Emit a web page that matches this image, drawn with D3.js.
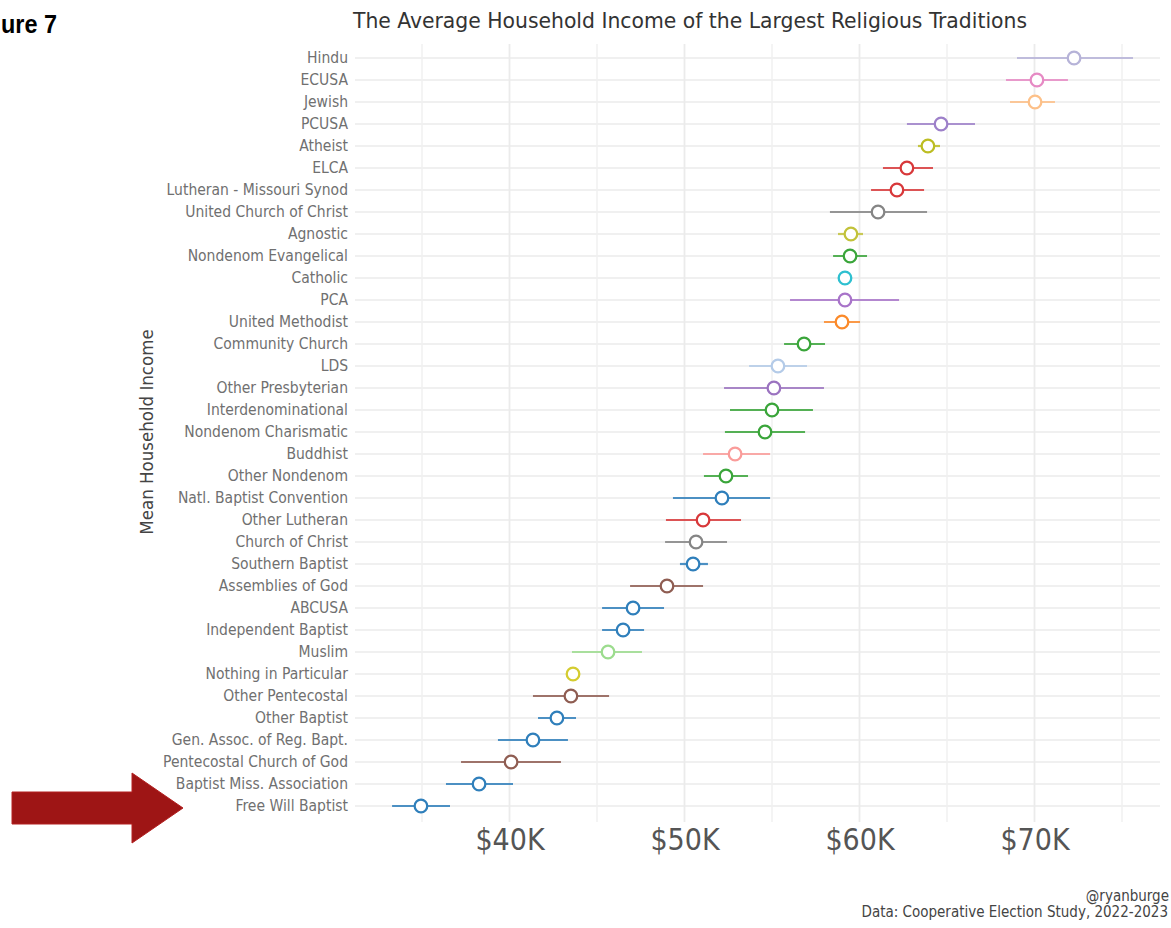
<!DOCTYPE html>
<html><head><meta charset="utf-8">
<script src="https://cdn.jsdelivr.net/npm/d3@7"></script>
<style>
html,body{margin:0;padding:0;background:#fff;}
svg{display:block;}
.cf{font-family:"Liberation Sans Narrow","DejaVu Sans Condensed","Roboto Condensed","Open Sans",sans-serif;font-stretch:condensed;}
</style></head>
<body>
<svg id="c" width="1171" height="928"></svg>
<script>
const categories = ["Hindu","ECUSA","Jewish","PCUSA","Atheist","ELCA","Lutheran - Missouri Synod","United Church of Christ","Agnostic","Nondenom Evangelical","Catholic","PCA","United Methodist","Community Church","LDS","Other Presbyterian","Interdenominational","Nondenom Charismatic","Buddhist","Other Nondenom","Natl. Baptist Convention","Other Lutheran","Church of Christ","Southern Baptist","Assemblies of God","ABCUSA","Independent Baptist","Muslim","Nothing in Particular","Other Pentecostal","Other Baptist","Gen. Assoc. of Reg. Bapt.","Pentecostal Church of God","Baptist Miss. Association","Free Will Baptist"];
const meanIncome = [72260,70140,70030,64660,63910,62710,62140,61060,59510,59460,59170,59170,59000,56830,55340,55110,55000,54600,52890,52370,52140,51060,50660,50490,49000,47060,46490,45630,43630,43510,42710,41340,40090,38260,34940];
const lowerCI = [69000,68370,68600,62710,63340,61340,60660,58310,58770,58490,58940,56030,57970,55690,53690,52260,52600,52310,51060,51110,49340,48940,48890,49740,46890,45290,45290,43570,43400,41340,41630,39340,37230,36370,33290];
const upperCI = [75630,71910,71170,66600,64600,64200,63690,63860,60200,60430,59400,62260,60030,58030,57000,57970,57340,56890,54890,53630,54890,53230,52430,51340,51060,48830,47690,47570,43860,45690,43800,43340,42940,40200,36600];
const colors = ["#b6b3d8","#e68ac4","#fdc088","#9d80c9","#bcbd22","#d8383a","#d8383a","#858585","#c2c23a","#3aa53a","#2ec0d0","#a874c9","#fb8a2a","#3aa53a","#b4cbe8","#9b73c0","#3aa53a","#3aa53a","#fa9c9a","#3aa53a","#2f7fbb","#d8383a","#858585","#2f7fbb","#8f5d52","#2f7fbb","#2f7fbb","#9cdc8e","#d4cc30","#8f5d52","#2f7fbb","#2f7fbb","#8f5d52","#2f7fbb","#2f7fbb"];
const xTicks = [40000,50000,60000,70000];
const xMinorTicks = [35000,45000,55000,65000,75000];

const svg = d3.select("#c");
const x = d3.scaleLinear().domain([35000,75000]).range([422,1122]);
const y = d3.scalePoint().domain(categories).range([58,806]);
const gridColor = "#ebebeb";

// grid
const g = svg.append("g");
g.selectAll("line.h").data(categories).join("line")
  .attr("x1",355).attr("x2",1160)
  .attr("y1",d=>y(d)).attr("y2",d=>y(d))
  .attr("stroke",gridColor).attr("stroke-width",1.6);
g.selectAll("line.vm").data(xMinorTicks).join("line")
  .attr("x1",d=>x(d)).attr("x2",d=>x(d)).attr("y1",44).attr("y2",822)
  .attr("stroke","#f0f0f0").attr("stroke-width",1.4);
g.selectAll("line.v").data(xTicks).join("line")
  .attr("x1",d=>x(d)).attr("x2",d=>x(d)).attr("y1",44).attr("y2",822)
  .attr("stroke",gridColor).attr("stroke-width",1.8);

// x axis labels
const xAxis = d3.axisBottom(x).tickValues(xTicks).tickSize(0).tickPadding(0)
  .tickFormat(d=>"$"+(d/1000)+"K");
const xa = svg.append("g").attr("transform","translate(0,850)").call(xAxis);
xa.select(".domain").remove();
xa.selectAll("text").attr("class","cf").attr("dy",0).attr("fill","#555")
  .style("font-size","30px");

// y axis labels
const yAxis = d3.axisLeft(y).tickSize(0).tickPadding(0);
const ya = svg.append("g").attr("transform","translate(348,0)").call(yAxis);
ya.select(".domain").remove();
ya.selectAll("text").attr("class","cf").attr("fill","#707070").style("font-size","15.5px");

// error bars and points
const data = categories.map((c,i)=>({c, m:meanIncome[i], lo:lowerCI[i], hi:upperCI[i], col:colors[i]}));
svg.append("g").selectAll("line").data(data).join("line")
  .attr("x1",d=>x(d.lo)).attr("x2",d=>x(d.hi))
  .attr("y1",d=>y(d.c)).attr("y2",d=>y(d.c))
  .attr("stroke",d=>d.col).attr("stroke-width",2.2).attr("stroke-opacity",0.85);
svg.append("g").selectAll("circle").data(data).join("circle")
  .attr("cx",d=>x(d.m)).attr("cy",d=>y(d.c)).attr("r",6.3)
  .attr("fill","#fff").attr("stroke",d=>d.col).attr("stroke-width",2.3);

// title
svg.append("text").attr("class","cf").attr("x",690).attr("y",28)
  .attr("text-anchor","middle").attr("fill","#333").style("font-size","22px")
  .attr("textLength",674).attr("lengthAdjust","spacingAndGlyphs")
  .text("The Average Household Income of the Largest Religious Traditions");

// y title
svg.append("text").attr("class","cf").attr("transform","translate(153,432) rotate(-90)")
  .attr("text-anchor","middle").attr("fill","#444").style("font-size","18.5px")
  .text("Mean Household Income");

// caption
svg.append("text").attr("class","cf").attr("x",1169).attr("y",901).attr("text-anchor","end")
  .attr("fill","#444").style("font-size","15px").text("@ryanburge");
svg.append("text").attr("class","cf").attr("x",1168).attr("y",917).attr("text-anchor","end")
  .attr("fill","#444").style("font-size","15px").text("Data: Cooperative Election Study, 2022-2023");

// figure label (only its visible tail, as in the reference crop)
svg.append("text").attr("x",1).attr("y",33).attr("text-anchor","start")
  .attr("fill","#000").style("font-family","'Liberation Sans','Open Sans',sans-serif")
  .style("font-weight","bold").style("font-size","26px")
  .attr("textLength",56).attr("lengthAdjust","spacingAndGlyphs").text("ure 7");

// arrow
svg.append("path")
  .attr("d","M12,792 L132,792 L132,773 L183,808 L132,843 L132,824 L12,824 Z")
  .attr("fill","#9e1515").attr("stroke","#b32020").attr("stroke-width",1);
</script>
</body></html>
